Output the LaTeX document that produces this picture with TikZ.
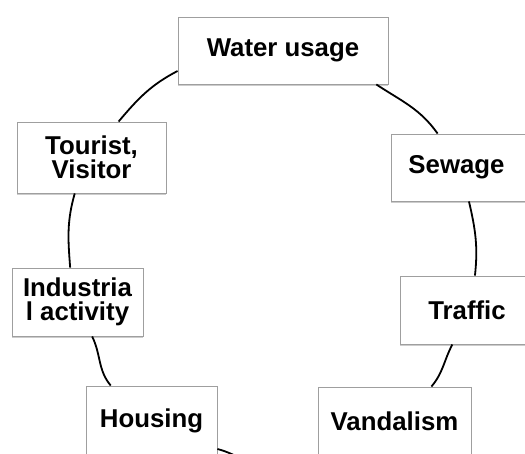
\documentclass[tikz,border=0pt]{standalone}
\usepackage{fontspec}
\setmainfont{Liberation Sans}
\usetikzlibrary{shadows}
\begin{document}
\begin{tikzpicture}[x=1pt,y=-1pt,
  box/.style={draw=gray!75, line width=0.9pt, fill=white, align=center,
    inner sep=0pt, font=\fontsize{25.8}{24}\selectfont\bfseries,
    drop shadow={shadow xshift=0pt, shadow yshift=-2.5pt, opacity=0.4, fill=gray}},
  link/.style={line width=1.8pt, black}]
\clip (0,0) rectangle (525,454);
\fill[white] (0,0) rectangle (525,454);
\node[box, minimum width=210pt, minimum height=67pt] (water) at (283,50.5) {Water usage};
\node[box, minimum width=149pt, minimum height=71pt] (tourist) at (91.5,157.5) {Tourist,\\Visitor};
\node[box, minimum width=139pt, minimum height=67pt] (sewage) at (460.5,167.5) {Sewage\hspace*{8pt}};
\node[box, minimum width=131pt, minimum height=68pt] (industria) at (77.5,302) {Industria\\l activity};
\node[box, minimum width=134pt, minimum height=68pt] (traffic) at (467,310) {Traffic};
\node[box, minimum width=131pt, minimum height=70pt] (housing) at (151.5,421) {Housing};
\node[box, minimum width=153pt, minimum height=68pt] (vandalism) at (394.5,421) {Vandalism};
\coordinate (below) at (268,472);
\draw[link] (water.191) to[out=207.6, in=49.8] (tourist.53);
\draw[link] (water.-20) to[out=-33.4, in=125.4] (sewage.124);
\draw[link] (tourist.245) to[out=254.1, in=94.5] (industria.102);
\draw[link] (sewage.-76) to[out=-76.9, in=83.8] (traffic.77);
\draw[link] (industria.293) to[out=296.3, in=129.8] (housing.139);
\draw[link] (traffic.247.6) to[out=-117.9, in=49.8] (vandalism.43);
\draw[link] (housing.-23) to[out=-15, in=160] (below);
\end{tikzpicture}
\end{document}
